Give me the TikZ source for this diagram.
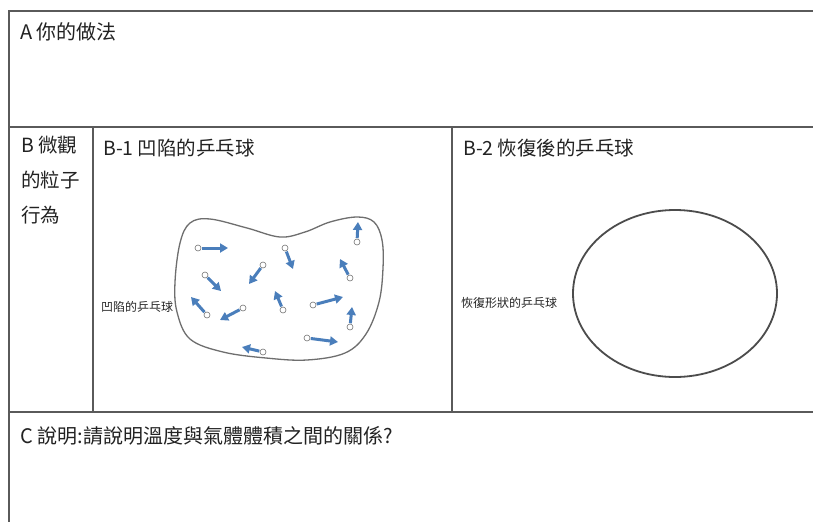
\documentclass[tikz,border=0pt]{standalone}
\usepackage{fontspec}
\usetikzlibrary{arrows.meta,shapes.geometric}
\newfontfamily\cjkrow{Noto Sans CJK TC}
\newfontfamily\cjkcell{Noto Sans CJK TC}
\definecolor{rule}{HTML}{5A5A5A}
\definecolor{ink}{HTML}{222222}
\definecolor{shell}{HTML}{6E6E6E}
\definecolor{motionblue}{HTML}{4A7EBB}
\tikzset{
  rowtext/.style={anchor=west, inner sep=0pt, text=ink,
    font=\cjkrow\fontsize{20}{24}\selectfont},
  celltext/.style={anchor=west, inner sep=0pt, text=ink,
    font=\cjkcell\fontsize{19.5}{35}\selectfont},
  tinylabel/.style={anchor=west, inner sep=0pt, text=black!85,
    font=\cjkcell\fontsize{12}{13}\selectfont},
  gridline/.style={draw=rule, line width=1.1pt},
  particle/.style={circle, draw=black!55, fill=white, line width=0.6pt,
    minimum size=6pt, inner sep=0pt},
  motion/.style={draw=motionblue, line width=3pt,
    -{Triangle[length=8pt,width=9pt]}, shorten <=0.5pt},
}
\begin{document}
\begin{tikzpicture}[x=1pt, y=-1pt]
\useasboundingbox (0,0) rectangle (813,522);
\fill[white] (0,0) rectangle (813,522);

% table rules
\draw[gridline] (813,11) -- (9,11) -- (9,522);
\draw[gridline] (9,127) -- (813,127);
\draw[gridline] (9,412) -- (813,412);
\draw[gridline] (93,127) -- (93,412);
\draw[gridline] (452,127) -- (452,412);

% row headings
\node[rowtext] (rowA) at (20,32) {A 你的做法};
\node[celltext, anchor=north west, align=left] (rowB) at (21,136)
  {B 微觀\\的粒子\\行為};
\node[celltext] (titleB1) at (103,148) {B-1 凹陷的乒乓球};
\node[celltext] (titleB2) at (463,148) {B-2 恢復後的乒乓球};
\node[rowtext] (rowC) at (20,436) {C 說明:請說明溫度與氣體體積之間的關係?};

% dented ping-pong ball
\draw[shell, line width=1.3pt] plot[smooth cycle, tension=0.6] coordinates {
  (190,223) (210,219) (247,228) (280,237) (305,232) (330,222)
  (357,217) (374,222) (382,240) (383,268) (379,302) (366,334)
  (345,353) (307,360) (266,358) (223,352) (190,339) (177,312)
  (175,282) (180,243)};
\node[tinylabel] (labelB1) at (101,307) {凹陷的乒乓球};

% gas particles and their motion
\foreach \i/\px/\py/\qx/\qy in {
   1/198/248/228/248,
   2/285/248/293/269,
   3/357/242/358/222,
   4/263/265/249/284,
   5/205/275/221/291,
   6/350/278/340/259,
   7/283/310/275/291,
   8/207/315/191/297,
   9/243/308/220/320,
  10/313/305/343/297,
  11/350/327/352/307,
  12/307/338/338/342,
  13/263/352/242/347} {
  \node[particle] (p\i) at (\px,\py) {};
  \coordinate (q\i) at (\qx,\qy);
  \draw[motion] (p\i) -- (q\i);
}

% restored ping-pong ball
\node[draw=black!70, line width=1.8pt, ellipse, minimum width=204pt,
  minimum height=167pt, inner sep=0pt] (ballB2) at (675,293.5) {};
\node[tinylabel] (labelB2) at (461,303) {恢復形狀的乒乓球};
\end{tikzpicture}
\end{document}
